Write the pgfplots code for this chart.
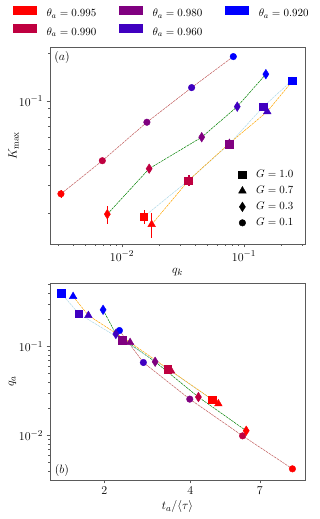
\documentclass[border=0pt]{standalone}
\usepackage{pgfplots}
\pgfplotsset{compat=1.18}
\definecolor{cA}{RGB}{255,0,0}
\definecolor{cB}{RGB}{191,0,64}
\definecolor{cC}{RGB}{128,0,128}
\definecolor{cD}{RGB}{64,0,192}
\definecolor{cE}{RGB}{0,0,255}
\definecolor{lnC}{RGB}{192,90,90}
\definecolor{lnD}{RGB}{0,128,0}
\definecolor{lnS}{RGB}{173,216,230}
\definecolor{lnT}{RGB}{255,165,0}
\definecolor{frameclr}{RGB}{90,90,90}
\pgfplotsset{
  gC/.style={only marks, forget plot, mark=*, mark size=3.3pt},
  gT/.style={only marks, forget plot, mark=triangle*, mark size=4.4pt},
  gS/.style={only marks, forget plot, mark=square*, mark size=3.8pt},
  gD/.style={only marks, forget plot, mark=diamond*, mark size=4.8pt, mark options={xscale=0.85}},
  lnsty/.style={no marks, forget plot, line width=0.5pt, dash pattern=on 2.5pt off 0.8pt},
}
\begin{document}
\begin{tikzpicture}
\useasboundingbox (0,0) rectangle (319pt,-519pt);
% legend for theta
\begin{axis}[hide axis, scale only axis, width=255pt, height=197pt, at={(50pt,-47pt)}, anchor=north west,
  xmin=0, xmax=1, ymin=0, ymax=1, legend columns=3,
  legend style={at={(axis description cs:-0.1451,1.208)}, anchor=north west, draw=none, fill=none,
    inner sep=0pt, row sep=5pt, font=\fontsize{11}{13}\selectfont, nodes={inner sep=1pt},
    /tikz/every odd column/.append style={column sep=9pt},
    /tikz/every even column/.append style={column sep=22pt}},
  legend cell align=left]
\addlegendimage{legend image code/.code={\fill[cA] (0pt,-0.6pt) rectangle (23pt,7.4pt);}}
\addlegendentry{$\theta_a=0.995$}
\addlegendimage{legend image code/.code={\fill[cC] (0pt,-0.6pt) rectangle (23pt,7.4pt);}}
\addlegendentry{$\theta_a=0.980$}
\addlegendimage{legend image code/.code={\fill[cE] (0pt,-0.6pt) rectangle (23pt,7.4pt);}}
\addlegendentry{$\theta_a=0.920$}
\addlegendimage{legend image code/.code={\fill[cB] (0pt,-0.6pt) rectangle (23pt,7.4pt);}}
\addlegendentry{$\theta_a=0.990$}
\addlegendimage{legend image code/.code={\fill[cD] (0pt,-0.6pt) rectangle (23pt,7.4pt);}}
\addlegendentry{$\theta_a=0.960$}
\end{axis}
% panel (a)
\begin{axis}[scale only axis, width=255pt, height=197pt, xmode=log, ymode=log,
  axis line style={frameclr}, tick align=outside, xtick pos=bottom, ytick pos=left,
  major tick length=3.5pt, minor tick length=2pt, every tick/.style={frameclr},
  tick label style={font=\fontsize{13}{15}\selectfont},
  at={(50pt,-47pt)}, anchor=north west,
  xmin=0.00257, xmax=0.316, ymin=0.01283, ymax=0.218,
  ytick={0.1}, yticklabels={$10^{-1}$},
  minor ytick={0.02,0.03,0.04,0.05,0.06,0.07,0.08,0.09,0.2},
  xtick={0.01,0.1}, xticklabels={$10^{-2}$,$10^{-1}$},
  minor xtick={0.003,0.004,0.005,0.006,0.007,0.008,0.009,0.02,0.03,0.04,0.05,0.06,0.07,0.08,0.09,0.2,0.3},
  xlabel={$q_k$}, ylabel={$K_{\max}$},
  every axis x label/.style={at={(axis description cs:0.5,-0.142)}, anchor=center, font=\fontsize{13}{15}\selectfont},
  every axis y label/.style={at={(axis description cs:-0.143,0.5)}, rotate=90, anchor=center, font=\fontsize{13}{15}\selectfont},
  legend style={at={(axis description cs:0.975,0.395)}, anchor=north east, draw=none, fill=none,
    font=\fontsize{11}{13}\selectfont, row sep=3pt,
    /tikz/every odd column/.append style={column sep=8pt}},
  legend cell align=left]
\addlegendimage{only marks, mark=square*, mark size=3.8pt, black}
\addlegendentry{$G=1.0$}
\addlegendimage{only marks, mark=triangle*, mark size=4.4pt, black}
\addlegendentry{$G=0.7$}
\addlegendimage{only marks, mark=diamond*, mark size=4.8pt, mark options={xscale=0.85}, black}
\addlegendentry{$G=0.3$}
\addlegendimage{only marks, mark=*, mark size=3.3pt, black}
\addlegendentry{$G=0.1$}
\addplot[lnsty, lnC] coordinates {(0.00316,0.0264) (0.0069,0.0425) (0.016,0.0739) (0.0372,0.1216) (0.0817,0.190)};
\addplot[lnsty, lnD] coordinates {(0.00758,0.0197) (0.0167,0.0379) (0.045,0.0596) (0.088,0.0925) (0.151,0.1475)};
\addplot[lnsty, lnS] coordinates {(0.0151,0.0190) (0.0349,0.0319) (0.0759,0.0541) (0.144,0.0925) (0.247,0.1346)};
\addplot[lnsty, lnT] coordinates {(0.0175,0.0170) (0.0354,0.0322) (0.0759,0.0546) (0.155,0.0861) (0.247,0.1326)};
% circles G=0.1
\addplot[gC, cA, error bars/.cd, y dir=both, y explicit, error mark=none] coordinates {(0.00316,0.0264) +- (0,0.0015)};
\addplot[gC, cB, error bars/.cd, y dir=both, y explicit, error mark=none] coordinates {(0.0069,0.0425) +- (0,0.0015)};
\addplot[gC, cC, error bars/.cd, y dir=both, y explicit, error mark=none] coordinates {(0.016,0.0739) +- (0,0.002)};
\addplot[gC, cD, error bars/.cd, y dir=both, y explicit, error mark=none] coordinates {(0.0372,0.1216) +- (0,0.002)};
\addplot[gC, cE, error bars/.cd, y dir=both, y explicit, error mark=none] coordinates {(0.0817,0.190) +- (0,0.003)};
% diamonds G=0.3
\addplot[gD, cA, error bars/.cd, y dir=both, y explicit, error mark=none] coordinates {(0.00758,0.0197) +- (0,0.0025)};
\addplot[gD, cB, error bars/.cd, y dir=both, y explicit, error mark=none] coordinates {(0.0167,0.0379) +- (0,0.002)};
\addplot[gD, cC, error bars/.cd, y dir=both, y explicit, error mark=none] coordinates {(0.045,0.0596) +- (0,0.002)};
\addplot[gD, cD, error bars/.cd, y dir=both, y explicit, error mark=none] coordinates {(0.088,0.0925) +- (0,0.003)};
\addplot[gD, cE, error bars/.cd, y dir=both, y explicit, error mark=none] coordinates {(0.151,0.1475) +- (0,0.004)};
% triangles G=0.7
\addplot[gT, cA, error bars/.cd, y dir=both, y explicit, error mark=none] coordinates {(0.0175,0.0170) +- (0,0.003)};
\addplot[gT, cB, error bars/.cd, y dir=both, y explicit, error mark=none] coordinates {(0.0354,0.0322) +- (0,0.0025)};
\addplot[gT, cC, error bars/.cd, y dir=both, y explicit, error mark=none] coordinates {(0.0759,0.0546) +- (0,0.002)};
\addplot[gT, cD, error bars/.cd, y dir=both, y explicit, error mark=none] coordinates {(0.155,0.0861) +- (0,0.003)};
\addplot[gT, cE, error bars/.cd, y dir=both, y explicit, error mark=none] coordinates {(0.247,0.1326) +- (0,0.004)};
% squares G=1.0
\addplot[gS, cA, error bars/.cd, y dir=both, y explicit, error mark=none] coordinates {(0.0151,0.0190) +- (0,0.0019)};
\addplot[gS, cB, error bars/.cd, y dir=both, y explicit, error mark=none] coordinates {(0.0349,0.0319) +- (0,0.0025)};
\addplot[gS, cC, error bars/.cd, y dir=both, y explicit, error mark=none] coordinates {(0.0759,0.0541) +- (0,0.002)};
\addplot[gS, cD, error bars/.cd, y dir=both, y explicit, error mark=none] coordinates {(0.144,0.0925) +- (0,0.003)};
\addplot[gS, cE, error bars/.cd, y dir=both, y explicit, error mark=none] coordinates {(0.247,0.1346) +- (0,0.004)};
\node[font=\fontsize{13}{15}\selectfont] at (rel axis cs:0.047,0.947) {$(a)$};
\end{axis}
% panel (b)
\begin{axis}[scale only axis, width=255pt, height=197pt, xmode=log, ymode=log,
  axis line style={frameclr}, tick align=outside, xtick pos=bottom, ytick pos=left,
  major tick length=3.5pt, minor tick length=2pt, every tick/.style={frameclr},
  tick label style={font=\fontsize{13}{15}\selectfont},
  at={(50pt,-283pt)}, anchor=north west,
  xmin=1.29, xmax=10.07, ymin=0.00316, ymax=0.516,
  xtick={2,4,7}, xticklabels={$2$,$4$,$7$}, minor xtick={},
  ytick={0.01,0.1}, yticklabels={$10^{-2}$,$10^{-1}$},
  minor ytick={0.004,0.005,0.006,0.007,0.008,0.009,0.02,0.03,0.04,0.05,0.06,0.07,0.08,0.09,0.2,0.3,0.4,0.5},
  xlabel={$t_a/\langle\tau\rangle$}, ylabel={$q_a$},
  every axis x label/.style={at={(axis description cs:0.5,-0.137)}, anchor=center, font=\fontsize{13}{15}\selectfont},
  every axis y label/.style={at={(axis description cs:-0.147,0.5)}, rotate=90, anchor=center, font=\fontsize{13}{15}\selectfont}]
\addplot[lnsty, lnC] coordinates {(2.257,0.151) (2.738,0.066) (3.98,0.0256) (6.09,0.0099) (9.10,0.00422)};
\addplot[lnsty, lnD] coordinates {(1.979,0.258) (2.193,0.138) (3.01,0.0673) (4.266,0.027) (6.27,0.0113)};
\addplot[lnsty, lnS] coordinates {(1.411,0.398) (1.627,0.233) (2.307,0.118) (3.334,0.0557) (4.764,0.0252)};
\addplot[lnsty, lnT] coordinates {(1.554,0.365) (1.758,0.223) (2.460,0.111) (3.424,0.053) (5.01,0.0227)};
% circles
\addplot[gC, cA] coordinates {(9.10,0.00422)};
\addplot[gC, cB] coordinates {(6.09,0.0099)};
\addplot[gC, cC] coordinates {(3.98,0.0256)};
\addplot[gC, cD] coordinates {(2.738,0.066)};
\addplot[gC, cE] coordinates {(2.257,0.151)};
% diamonds
\addplot[gD, cA] coordinates {(6.27,0.0113)};
\addplot[gD, cB] coordinates {(4.266,0.027)};
\addplot[gD, cC] coordinates {(3.01,0.0673)};
\addplot[gD, cD] coordinates {(2.193,0.138)};
\addplot[gD, cE] coordinates {(1.979,0.258)};
% triangles
\addplot[gT, cA] coordinates {(5.01,0.0227)};
\addplot[gT, cB] coordinates {(3.424,0.053)};
\addplot[gT, cC] coordinates {(2.460,0.111)};
\addplot[gT, cD] coordinates {(1.758,0.223)};
\addplot[gT, cE] coordinates {(1.554,0.365)};
% squares
\addplot[gS, cA] coordinates {(4.764,0.0252)};
\addplot[gS, cB] coordinates {(3.334,0.0557)};
\addplot[gS, cC] coordinates {(2.307,0.118)};
\addplot[gS, cD] coordinates {(1.627,0.233)};
\addplot[gS, cE] coordinates {(1.411,0.398)};
\node[font=\fontsize{13}{15}\selectfont] at (rel axis cs:0.047,0.048) {$(b)$};
\end{axis}
\end{tikzpicture}
\end{document}
